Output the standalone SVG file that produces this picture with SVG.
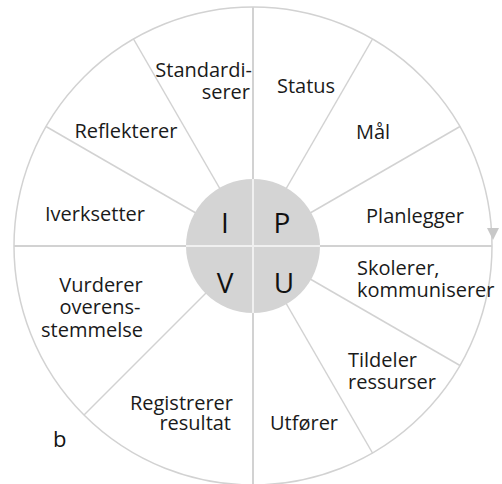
<svg xmlns="http://www.w3.org/2000/svg" width="502" height="484" viewBox="0 0 502 484">
<style>
.line{stroke:#d2d2d2;stroke-width:1.5;fill:none}
.axis{stroke:#d2d2d2;stroke-width:2;fill:none}
.inaxis{stroke:#f0f0f0;stroke-width:2;fill:none}
.lbl{font-family:"Open Sans","Liberation Sans",sans-serif;font-size:20px;fill:#1a1a1a}
.big{font-family:"Open Sans","Liberation Sans",sans-serif;font-size:28px;fill:#111}
</style>
<rect width="502" height="484" fill="#fff"/>
<g id="wheel">
<circle cx="253" cy="246" r="239" class="line"/>
</g>
<g id="connectors">
<line x1="253" y1="7" x2="253" y2="485" class="axis"/>
<line x1="14" y1="246" x2="492" y2="246" class="axis"/>
<line x1="253" y1="246" x2="133.5" y2="39" class="line"/>
<line x1="253" y1="246" x2="46" y2="126.5" class="line"/>
<line x1="253" y1="246" x2="372.5" y2="39" class="line"/>
<line x1="253" y1="246" x2="460" y2="126.5" class="line"/>
<line x1="253" y1="246" x2="460" y2="365.5" class="line"/>
<line x1="253" y1="246" x2="372.5" y2="453" class="line"/>
<line x1="253" y1="246" x2="84" y2="415" class="line"/>
<polygon points="487,228 499,228 493,240" fill="#c8c8c8"/>
</g>
<g id="hub">
<circle cx="253" cy="246" r="67" fill="#d4d4d4"/>
<line x1="253" y1="179" x2="253" y2="313" class="inaxis"/>
<line x1="186" y1="246" x2="320" y2="246" class="inaxis"/>
<text x="225" y="233" class="big" text-anchor="middle">I</text>
<text x="282" y="233" class="big" text-anchor="middle">P</text>
<text x="225" y="293" class="big" text-anchor="middle">V</text>
<text x="284" y="293" class="big" text-anchor="middle">U</text>
</g>
<g id="standardiserer"><text class="lbl" text-anchor="end"><tspan x="252" y="77">Standardi-</tspan><tspan x="250" y="99">serer</tspan></text></g>
<g id="status"><text class="lbl" x="277" y="93">Status</text></g>
<g id="reflekterer"><text class="lbl" x="126" y="138" text-anchor="middle">Reflekterer</text></g>
<g id="maal"><text class="lbl" x="373" y="139" text-anchor="middle">Mål</text></g>
<g id="iverksetter"><text class="lbl" x="95" y="221" text-anchor="middle">Iverksetter</text></g>
<g id="planlegger"><text class="lbl" x="415" y="223" text-anchor="middle">Planlegger</text></g>
<g id="skolerer"><text class="lbl"><tspan x="357" y="275">Skolerer,</tspan><tspan x="357" y="297">kommuniserer</tspan></text></g>
<g id="vurderer"><text class="lbl" text-anchor="middle"><tspan x="101" y="292">Vurderer</tspan><tspan x="100" y="314">overens-</tspan><tspan x="92" y="337">stemmelse</tspan></text></g>
<g id="tildeler"><text class="lbl"><tspan x="348" y="367">Tildeler</tspan><tspan x="348" y="389">ressurser</tspan></text></g>
<g id="registrerer"><text class="lbl" text-anchor="end"><tspan x="233" y="410">Registrerer</tspan><tspan x="231" y="430">resultat</tspan></text></g>
<g id="utforer"><text class="lbl" x="270" y="430">Utfører</text></g>
<g id="label-b"><text x="53" y="447" font-family="Open Sans, Liberation Sans, sans-serif" font-size="22" fill="#111">b</text></g>
</svg>
